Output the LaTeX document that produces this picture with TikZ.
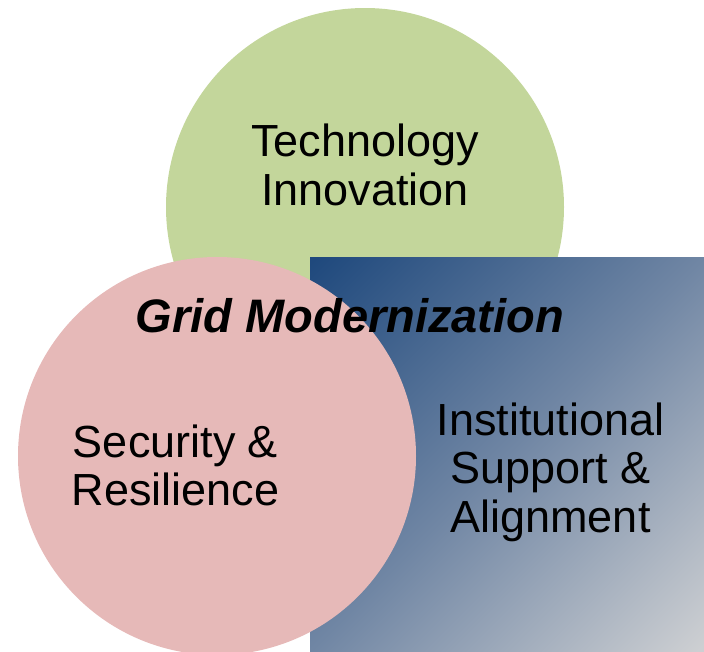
\documentclass[tikz,border=0pt]{standalone}
\usepackage{fontspec}
\setmainfont{Liberation Sans}
\definecolor{techgreen}{RGB}{195,214,155}
\definecolor{secpink}{RGB}{230,185,184}
\definecolor{instdark}{RGB}{31,73,125}
\definecolor{instmid}{RGB}{112,134,164}
\definecolor{instlight}{RGB}{205,207,210}
\pgfdeclarehorizontalshading{instshade}{100bp}{color(0bp)=(instdark); color(15bp)=(instdark);
    color(50bp)=(instmid); color(85bp)=(instlight); color(100bp)=(instlight)}

\begin{document}
\begin{tikzpicture}[x=1pt,y=-1pt]
    \tikzstyle{circ}=[circle, inner sep=0pt, minimum size=398pt]
    \tikzstyle{topic}=[align=center, inner sep=0pt, font=\fontsize{45}{48.5}\selectfont]

    \useasboundingbox (0,0) rectangle (704,651);

    % Draw the technology circle
    \node[circ, fill=techgreen] (tech) at (365,207) {};

    % Draw the institutional square
    \node[rectangle, inner sep=0pt, minimum size=394pt,
        shading=instshade, shading angle=-45] (inst) at (507,454) {};

    % Draw the security circle
    \node[circ, fill=secpink] (sec) at (217,456) {};

    % Annotate the areas
    \node[topic] (tech-t) at (365,165) {Technology\\Innovation};
    \node[topic] (sec-t) at (175.5,465.5) {Security \&\\Resilience};
    \node[topic] (inst-t) at (550.5,472) {Institutional\\Support \&\\Alignment};
    \node[inner sep=0pt, anchor=base, font=\fontsize{47}{50}\selectfont\bfseries\itshape] (grid) at (350,332) {Grid Modernization};
\end{tikzpicture}
\end{document}
